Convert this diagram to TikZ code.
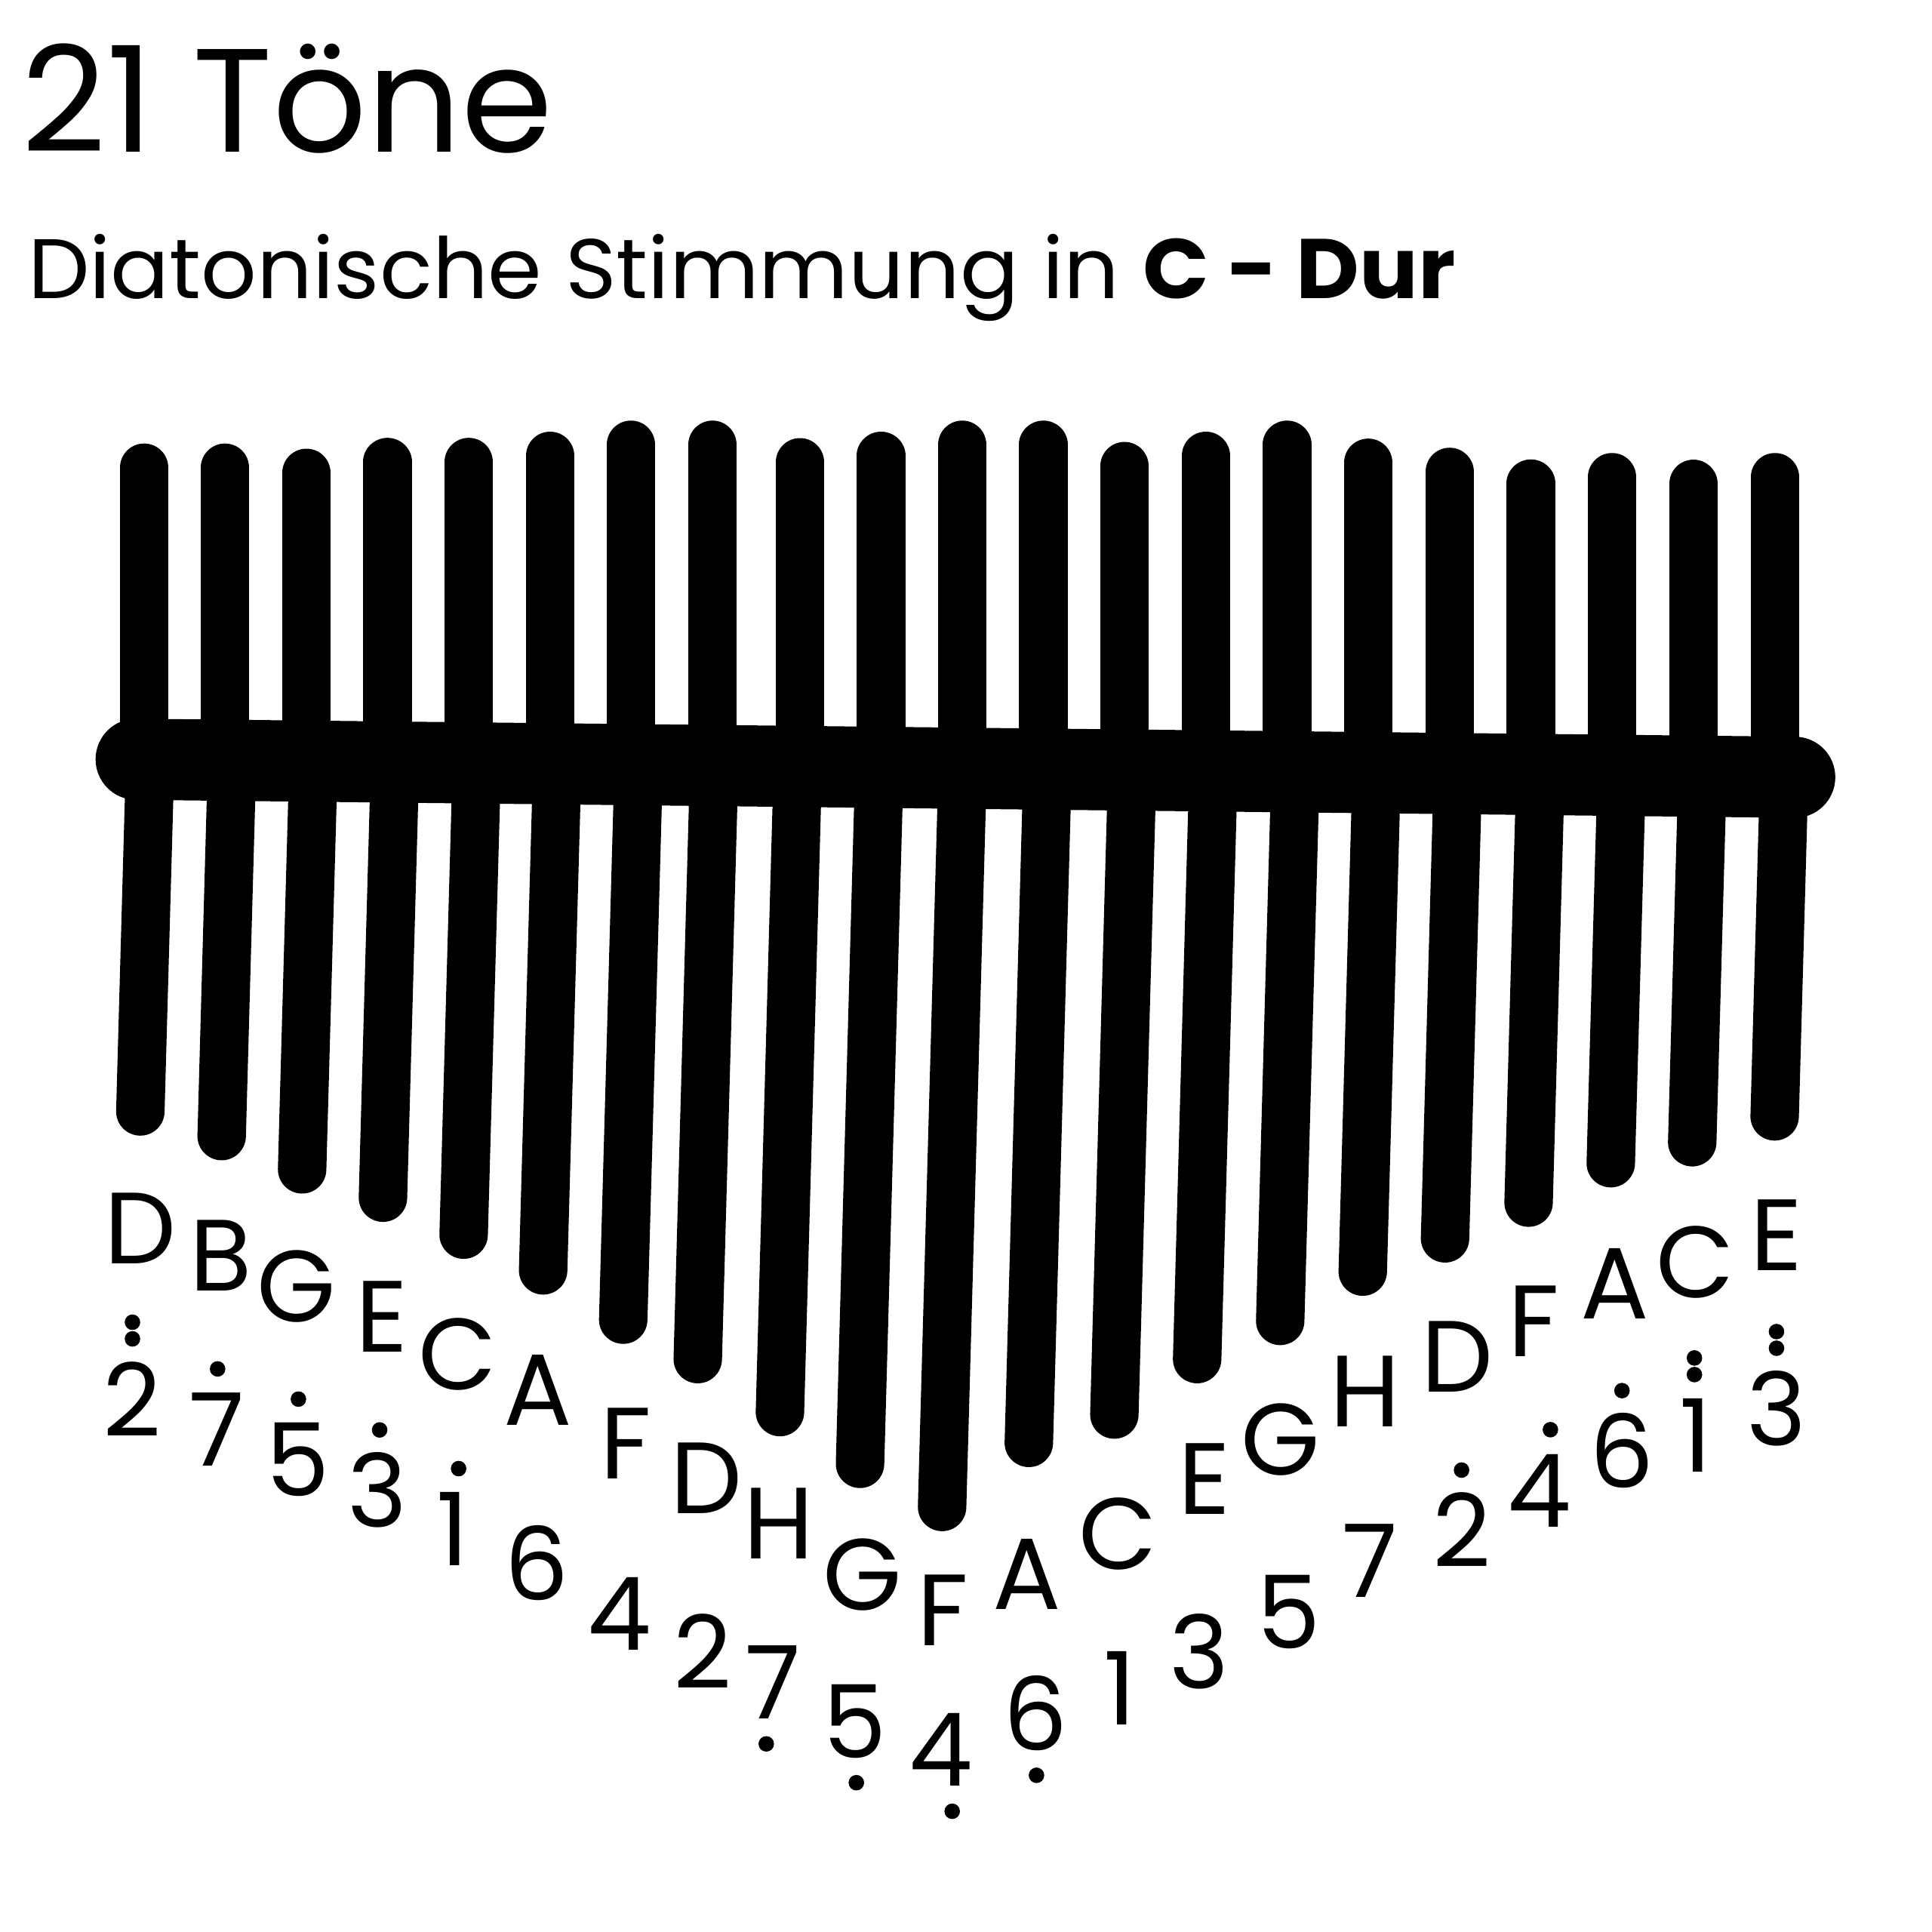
\documentclass[tikz,border=0pt]{standalone}
\usepackage{fontspec}
\setmainfont{Poppins}
\tikzstyle{tn}=[line width=0.393cm,line cap=round]
\tikzstyle{br}=[line width=0.658cm,line cap=round]
\tikzstyle{nt}=[inner sep=0,anchor=base,font=\fontsize{23.4}{24}\selectfont]
\tikzstyle{dt}=[fill=black]

\begin{document}
\begin{tikzpicture}[x=0.01cm,y=-0.01cm]
\useasboundingbox (0,0) rectangle (1568,1568);

% title
\node[inner sep=0,anchor=base west,font=\fontsize{34}{36}\selectfont] (title) at (17,123.5) {21 Töne};
\node[inner sep=0,anchor=base west,font=\fontsize{19.5}{21}\selectfont] (sub) at (22,242) {\scalebox{1.03}[1]{Diatonische Stimmung in \textbf{C - Dur}}};

% upper tines
\draw[tn]
(116.9,379.6) -- (116.9,620)
(182.7,379.6) -- (182.7,620)
(248.8,383.8) -- (248.8,620)
(314.5,375.0) -- (314.5,620)
(380.6,375.0) -- (380.6,620)
(446.4,370.0) -- (446.4,620)
(512.1,361.0) -- (512.1,620)
(578.3,361.0) -- (578.3,620)
(649.3,375.2) -- (649.3,620)
(715.1,370.0) -- (715.1,620)
(781.0,361.0) -- (781.0,620)
(846.8,361.0) -- (846.8,620)
(912.7,378.3) -- (912.7,620)
(978.6,370.0) -- (978.6,620)
(1044.6,361.0) -- (1044.6,620)
(1110.5,375.6) -- (1110.5,620)
(1176.4,383.0) -- (1176.4,620)
(1242.5,392.5) -- (1242.5,620)
(1308.4,387.3) -- (1308.4,620)
(1374.3,392.7) -- (1374.3,620)
(1440.5,387.3) -- (1440.5,620)
;

% lower tines
\draw[tn]
(121.5,630) -- (113.9,902)
(188.0,630) -- (179.9,922)
(254.1,630) -- (245.2,949)
(320.3,630) -- (310.8,972)
(386.7,630) -- (376.3,1002)
(452.0,630) -- (440.8,1031)
(518.1,630) -- (505.8,1071)
(579.4,630) -- (566.3,1103)
(647.3,630) -- (633.0,1146)
(713.5,630) -- (698.0,1188)
(781.1,630) -- (764.6,1223)
(850.0,630) -- (835.0,1171)
(918.8,630) -- (904.4,1148)
(984.7,630) -- (971.6,1103)
(1051.3,630) -- (1039.0,1072)
(1117.2,630) -- (1106.0,1032)
(1183.2,630) -- (1172.8,1005)
(1250.2,630) -- (1240.6,976)
(1316.1,630) -- (1307.3,944)
(1381.7,630) -- (1373.4,927)
(1448.0,630) -- (1440.3,906)
;

% bridge
\coordinate (bl) at (110.5,616.2);
\coordinate (bri) at (1456.6,630.8);
\draw[br] (bl) -- (bri);

% letters
\node[nt] (l1) at (113.9,1025.9) {D};
\node[nt] (l2) at (179.2,1047.8) {B};
\node[nt] (l3) at (240.5,1072.5) {G};
\node[nt] (l4) at (310.0,1097.4) {E};
\node[nt] (l5) at (371.4,1127.8) {C};
\node[nt] (l6) at (436.5,1156.9) {A};
\node[nt] (l7) at (507.8,1200.0) {F};
\node[nt] (l8) at (573.1,1228.3) {D};
\node[nt] (l9) at (631.8,1264.9) {H};
\node[nt] (l10) at (700.1,1306.6) {G};
\node[nt] (l11) at (765.1,1335.7) {F};
\node[nt] (l12) at (833.4,1306.4) {A};
\node[nt] (l13) at (907.3,1273.4) {C};
\node[nt] (l14) at (977.6,1229.0) {E};
\node[nt] (l15) at (1039.4,1196.9) {G};
\node[nt] (l16) at (1108.2,1157.8) {H};
\node[nt] (l17) at (1183.0,1130.0) {D};
\node[nt] (l18) at (1244.8,1100.9) {F};
\node[nt] (l19) at (1310.6,1070.6) {A};
\node[nt] (l20) at (1375.7,1053.0) {C};
\node[nt] (l21) at (1442.0,1031.2) {E};

% numbers
\node[nt] (d1) at (107.0,1165.6) {2};
\node[nt] (d2) at (176.1,1190.0) {7};
\node[nt] (d3) at (242.0,1214.5) {5};
\node[nt] (d4) at (306.4,1239.5) {3};
\node[nt] (d5) at (367.2,1270.9) {1};
\node[nt] (d6) at (435.6,1298.5) {6};
\node[nt] (d7) at (502.6,1339.0) {4};
\node[nt] (d8) at (570.1,1370.4) {2};
\node[nt] (d9) at (627.6,1395.0) {7};
\node[nt] (d10) at (694.0,1426.5) {5};
\node[nt] (d11) at (763.4,1449.7) {4};
\node[nt] (d12) at (840.6,1420.5) {6};
\node[nt] (d13) at (909.0,1400.0) {1};
\node[nt] (d14) at (973.5,1370.7) {3};
\node[nt] (d15) at (1046.1,1337.9) {5};
\node[nt] (d16) at (1111.9,1296.2) {7};
\node[nt] (d17) at (1186.2,1272.1) {2};
\node[nt] (d18) at (1249.1,1239.3) {4};
\node[nt] (d19) at (1316.4,1207.6) {6};
\node[nt] (d20) at (1376.3,1194.6) {1};
\node[nt] (d21) at (1442.0,1173.2) {3};

% octave dots
\fill[dt] ([shift={(0.5,-79)}]d1.base) circle (0.063cm);
\fill[dt] ([shift={(0.5,-92.5)}]d1.base) circle (0.063cm);
\fill[dt] ([shift={(0.5,-79)}]d2.base) circle (0.063cm);
\fill[dt] ([shift={(0.2,-79)}]d3.base) circle (0.063cm);
\fill[dt] ([shift={(1.7,-79)}]d4.base) circle (0.063cm);
\fill[dt] ([shift={(5,-79)}]d5.base) circle (0.063cm);
\fill[dt] ([shift={(-5.7,20.3)}]d9.base) circle (0.063cm);
\fill[dt] ([shift={(1,20.3)}]d10.base) circle (0.063cm);
\fill[dt] ([shift={(9.4,20.3)}]d11.base) circle (0.063cm);
\fill[dt] ([shift={(0.6,20.3)}]d12.base) circle (0.063cm);
\fill[dt] ([shift={(0,-79)}]d17.base) circle (0.063cm);
\fill[dt] ([shift={(9.2,-79)}]d18.base) circle (0.063cm);
\fill[dt] ([shift={(0,-79)}]d19.base) circle (0.063cm);
\fill[dt] ([shift={(-1.1,-79)}]d20.base) circle (0.063cm);
\fill[dt] ([shift={(-1.1,-92.5)}]d20.base) circle (0.063cm);
\fill[dt] ([shift={(-0.2,-79)}]d21.base) circle (0.063cm);
\fill[dt] ([shift={(-0.2,-92.5)}]d21.base) circle (0.063cm);

\end{tikzpicture}
\end{document}
